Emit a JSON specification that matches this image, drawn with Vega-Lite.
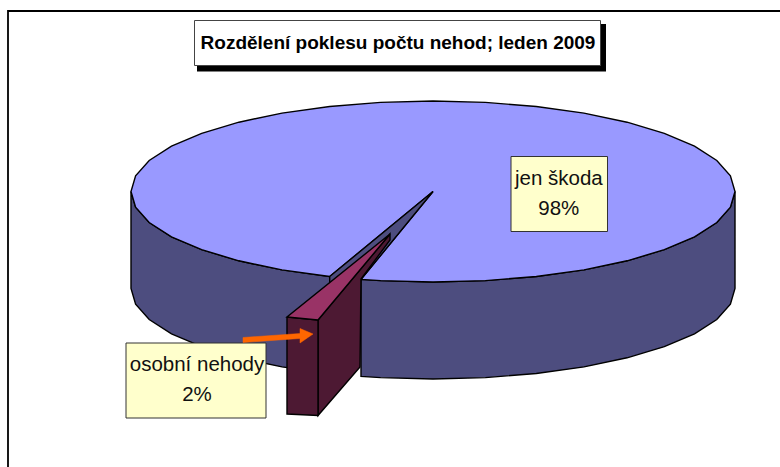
{
"$schema":"https://vega.github.io/schema/vega-lite/v6.json",
"width":780,"height":467,"padding":0,
"autosize":{"type":"none"},
"background":"white",
"view":{"stroke":null},
"datasets":{
"frame":[{"i":1,"x":8,"y":467},{"i":2,"x":8,"y":11},{"i":3,"x":780,"y":11}],
"titleShadow":[{"x":197,"x2":606,"y":24,"y2":71.5}],
"titleBox":[{"x":194.5,"x2":600.5,"y":20.5,"y2":65.5}],
"sideLeft":[{"i":1,"x":131,"y":191.5},{"i":2,"x":135.6,"y":207.2},{"i":3,"x":149.2,"y":222.5},{"i":4,"x":171.5,"y":236.8},{"i":5,"x":201.7,"y":249.7},{"i":6,"x":238.9,"y":260.8},{"i":7,"x":282,"y":269.9},{"i":8,"x":329.7,"y":276.5},{"i":9,"x":329.7,"y":373.5},{"i":10,"x":282,"y":366.9},{"i":11,"x":238.9,"y":357.8},{"i":12,"x":201.7,"y":346.7},{"i":13,"x":171.5,"y":333.8},{"i":14,"x":149.2,"y":319.5},{"i":15,"x":135.6,"y":304.2},{"i":16,"x":131,"y":288.5},{"i":17,"x":131,"y":191.5}],
"sideRight":[{"i":1,"x":361,"y":279.4},{"i":2,"x":380.6,"y":280.6},{"i":3,"x":433,"y":282},{"i":4,"x":485.4,"y":280.6},{"i":5,"x":536.3,"y":276.5},{"i":6,"x":584,"y":269.9},{"i":7,"x":627.1,"y":260.8},{"i":8,"x":664.3,"y":249.7},{"i":9,"x":694.5,"y":236.8},{"i":10,"x":716.8,"y":222.5},{"i":11,"x":730.4,"y":207.2},{"i":12,"x":735,"y":191.5},{"i":13,"x":735,"y":288.5},{"i":14,"x":730.4,"y":304.2},{"i":15,"x":716.8,"y":319.5},{"i":16,"x":694.5,"y":333.8},{"i":17,"x":664.3,"y":346.7},{"i":18,"x":627.1,"y":357.8},{"i":19,"x":584,"y":366.9},{"i":20,"x":536.3,"y":373.5},{"i":21,"x":485.4,"y":377.6},{"i":22,"x":433,"y":379},{"i":23,"x":380.6,"y":377.6},{"i":24,"x":361,"y":376.4},{"i":25,"x":361,"y":279.4}],
"top":[{"i":1,"x":433,"y":191.5},{"i":2,"x":361,"y":279.4},{"i":3,"x":380.6,"y":280.6},{"i":4,"x":433,"y":282},{"i":5,"x":485.4,"y":280.6},{"i":6,"x":536.3,"y":276.5},{"i":7,"x":584,"y":269.9},{"i":8,"x":627.1,"y":260.8},{"i":9,"x":664.3,"y":249.7},{"i":10,"x":694.5,"y":236.8},{"i":11,"x":716.8,"y":222.5},{"i":12,"x":730.4,"y":207.2},{"i":13,"x":735,"y":191.5},{"i":14,"x":730.4,"y":175.8},{"i":15,"x":716.8,"y":160.5},{"i":16,"x":694.5,"y":146.2},{"i":17,"x":664.3,"y":133.3},{"i":18,"x":627.1,"y":122.2},{"i":19,"x":584,"y":113.1},{"i":20,"x":536.3,"y":106.5},{"i":21,"x":485.4,"y":102.4},{"i":22,"x":433,"y":101},{"i":23,"x":380.6,"y":102.4},{"i":24,"x":329.7,"y":106.5},{"i":25,"x":282,"y":113.1},{"i":26,"x":238.9,"y":122.2},{"i":27,"x":201.7,"y":133.3},{"i":28,"x":171.5,"y":146.2},{"i":29,"x":149.2,"y":160.5},{"i":30,"x":135.6,"y":175.8},{"i":31,"x":131,"y":191.5},{"i":32,"x":135.6,"y":207.2},{"i":33,"x":149.2,"y":222.5},{"i":34,"x":171.5,"y":236.8},{"i":35,"x":201.7,"y":249.7},{"i":36,"x":238.9,"y":260.8},{"i":37,"x":282,"y":269.9},{"i":38,"x":329.7,"y":276.5},{"i":39,"x":433,"y":191.5}],
"innerWall":[{"i":1,"x":433,"y":191.5},{"i":2,"x":329.7,"y":276.5},{"i":3,"x":329.7,"y":288},{"i":4,"x":361,"y":279.4},{"i":5,"x":433,"y":191.5}],
"wedgeSide":[{"i":1,"x":318,"y":320},{"i":2,"x":390,"y":234},{"i":3,"x":390,"y":240},{"i":4,"x":361,"y":279},{"i":5,"x":360,"y":367},{"i":6,"x":318,"y":415.5},{"i":7,"x":318,"y":320}],
"wedgeFront":[{"i":1,"x":287,"y":317},{"i":2,"x":318,"y":320},{"i":3,"x":318,"y":415.5},{"i":4,"x":287,"y":414},{"i":5,"x":287,"y":317}],
"wedgeTop":[{"i":1,"x":390,"y":234},{"i":2,"x":287,"y":317},{"i":3,"x":318,"y":320},{"i":4,"x":390,"y":234}],
"boxes":[{"x":126,"x2":266,"y":343,"y2":418},{"x":511,"x2":607.5,"y":156.5,"y2":231.5}],
"arrow":[{"i":1,"x":243,"y":337.5},{"i":2,"x":300,"y":333.5},{"i":3,"x":300,"y":328.5},{"i":4,"x":313,"y":334},{"i":5,"x":300,"y":343},{"i":6,"x":300,"y":338.5},{"i":7,"x":243,"y":342.5},{"i":8,"x":243,"y":337.5}],
"labels":[{"x":558.8,"y":185,"t":"jen škoda"},{"x":558.8,"y":215,"t":"98%"},{"x":197,"y":371,"t":"osobní nehody"},{"x":197,"y":401,"t":"2%"}],
"title":[{"x":398,"y":48.5,"t":"Rozdělení poklesu počtu nehod; leden 2009"}]
},
"encoding":{
"x":{"field":"x","type":"quantitative","axis":null,"scale":{"domain":[0,780],"nice":false,"zero":false}},
"y":{"field":"y","type":"quantitative","axis":null,"scale":{"domain":[467,0],"nice":false,"zero":false}}
},
"layer":[
{"data":{"name":"frame"},"mark":{"type":"line","stroke":"#000","strokeWidth":1.8},"encoding":{"order":{"field":"i"}}},
{"data":{"name":"sideLeft"},"mark":{"type":"line","fill":"#4D4D7F","stroke":"#000","strokeWidth":1.4},"encoding":{"order":{"field":"i"}}},
{"data":{"name":"sideRight"},"mark":{"type":"line","fill":"#4D4D7F","stroke":"#000","strokeWidth":1.4},"encoding":{"order":{"field":"i"}}},
{"data":{"name":"top"},"mark":{"type":"line","fill":"#9999FF","stroke":"#000","strokeWidth":1.4},"encoding":{"order":{"field":"i"}}},
{"data":{"name":"innerWall"},"mark":{"type":"line","fill":"#4D4D7F","stroke":"#000","strokeWidth":1.4},"encoding":{"order":{"field":"i"}}},
{"data":{"name":"wedgeSide"},"mark":{"type":"line","fill":"#4D1933","stroke":"#000","strokeWidth":1.4},"encoding":{"order":{"field":"i"}}},
{"data":{"name":"wedgeFront"},"mark":{"type":"line","fill":"#4D1933","stroke":"#000","strokeWidth":1.4},"encoding":{"order":{"field":"i"}}},
{"data":{"name":"wedgeTop"},"mark":{"type":"line","fill":"#993366","stroke":"#000","strokeWidth":1.4},"encoding":{"order":{"field":"i"}}},
{"data":{"name":"boxes"},"mark":{"type":"rect","fill":"#FFFFCC","stroke":"#333","strokeWidth":1},"encoding":{"x2":{"field":"x2"},"y2":{"field":"y2"}}},
{"data":{"name":"arrow"},"mark":{"type":"line","fill":"#FF6600","stroke":"#FF6600","strokeWidth":0.5},"encoding":{"order":{"field":"i"}}},
{"data":{"name":"labels"},"mark":{"type":"text","font":"Liberation Sans","fontSize":20.5,"align":"center","baseline":"alphabetic","color":"#111"},"encoding":{"text":{"field":"t"}}},
{"data":{"name":"titleShadow"},"mark":{"type":"rect","fill":"#000"},"encoding":{"x2":{"field":"x2"},"y2":{"field":"y2"}}},
{"data":{"name":"titleBox"},"mark":{"type":"rect","fill":"#fff","stroke":"#444","strokeWidth":1},"encoding":{"x2":{"field":"x2"},"y2":{"field":"y2"}}},
{"data":{"name":"title"},"mark":{"type":"text","font":"Liberation Sans","fontWeight":"bold","fontSize":19,"align":"center","baseline":"alphabetic","color":"#000"},"encoding":{"text":{"field":"t"}}}
]
}
